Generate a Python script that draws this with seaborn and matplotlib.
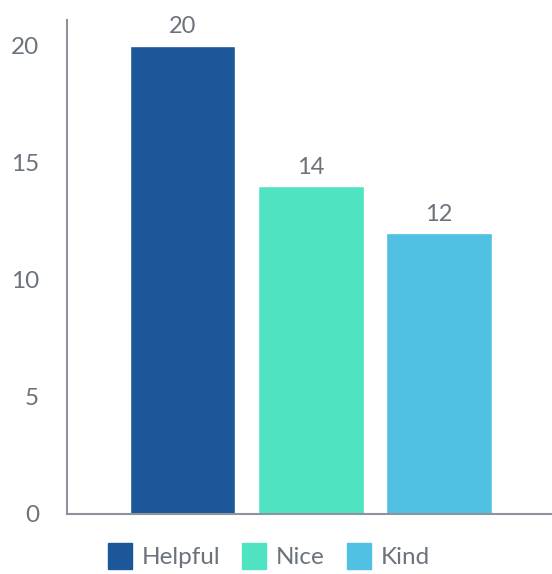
import matplotlib
matplotlib.use('Agg')
import matplotlib.pyplot as plt
import seaborn as sns
import pandas as pd
from matplotlib.patches import Patch

categories = ['Helpful', 'Nice', 'Kind']
values = [20, 14, 12]
colors = ['#1c5799', '#50e3c2', '#50c0e3']
yticks = [0, 5, 10, 15, 20]

sns.set_style('white')
plt.rcParams['font.family'] = ['Lato', 'DejaVu Sans']
TXT = '#6b737d'
AX = '#8c939b'

df = pd.DataFrame({'cat': categories, 'val': values})

fig = plt.figure(figsize=(5.52, 5.74), dpi=100)
ax = fig.add_axes([67 / 552, 60 / 574, 1 - 67 / 552, 494 / 574])
sns.barplot(data=df, x='cat', y='val', hue='cat', palette=colors,
            width=0.825, legend=False, ax=ax, saturation=1)

for i, v in enumerate(values):
    ax.annotate(str(v), (i, v), xytext=(0, 6), textcoords='offset points',
                ha='center', va='bottom', fontsize=17, color=TXT)

ax.set_xlim(-0.9, 2.88)
ax.set_ylim(0, 21.1)
ax.set_yticks(yticks)
ax.set_xticks([])
ax.set_xlabel('')
ax.set_ylabel('')
ax.tick_params(axis='y', length=0, pad=20, labelsize=17.5, labelcolor=TXT)
for s in ['top', 'right']:
    ax.spines[s].set_visible(False)
for s in ['left', 'bottom']:
    ax.spines[s].set_color(AX)
    ax.spines[s].set_linewidth(1.5)

handles = [Patch(facecolor=c, edgecolor=c, label=l) for c, l in zip(colors, categories)]
fig.legend(handles=handles, loc='lower center', bbox_to_anchor=(0.487, -0.03), ncol=3,
           frameon=False, fontsize=17.5, labelcolor=TXT, handlelength=1.0, handleheight=1.3,
           handletextpad=0.4, columnspacing=0.9)

fig.savefig('out.png', dpi=100)
